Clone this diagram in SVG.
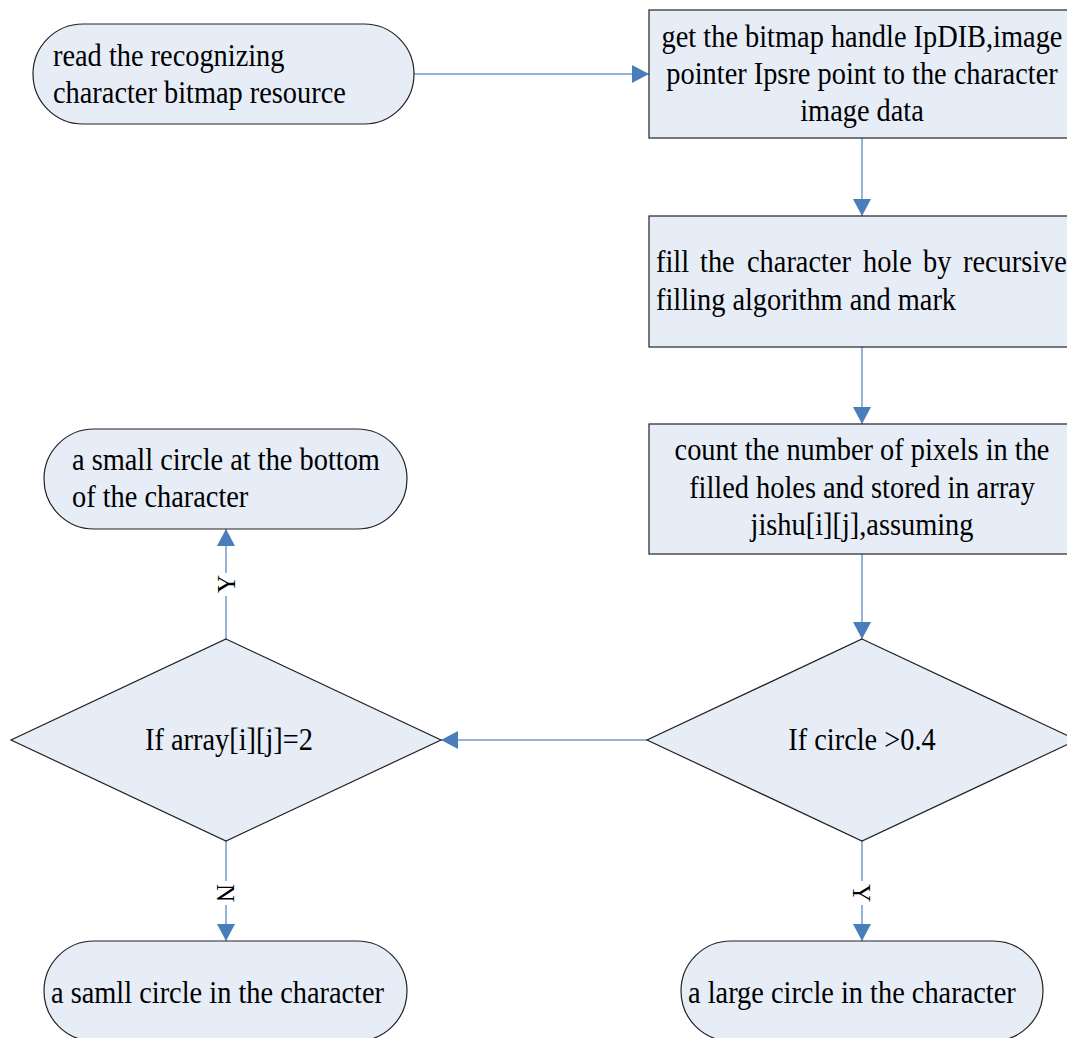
<svg xmlns="http://www.w3.org/2000/svg" width="1067" height="1038" viewBox="0 0 1067 1038">
<style>
.n{fill:#e7edf7;stroke:#222;stroke-width:1.2}
.t{font-family:"Liberation Serif","Times New Roman",serif;font-size:31px;fill:#000}
.m{text-anchor:middle}
.c{stroke:#95b3d7;stroke-width:2;fill:none}
.l{font-family:"Liberation Serif","Times New Roman",serif;font-size:25px;fill:#000;text-anchor:middle}
</style>
<defs>
<marker id="ah" markerUnits="userSpaceOnUse" markerWidth="18" markerHeight="18" viewBox="0 0 18 18" refX="17" refY="9" orient="auto">
<path d="M0,0 L17,9 L0,18 Z" fill="#4a7ebb"/>
</marker>
</defs>
<rect width="1067" height="1038" fill="#fff"/>
<g id="connectors">
<line class="c" x1="414" y1="74" x2="649" y2="74" marker-end="url(#ah)"/>
<line class="c" x1="862" y1="138" x2="862" y2="216" marker-end="url(#ah)"/>
<line class="c" x1="862" y1="347" x2="862" y2="424" marker-end="url(#ah)"/>
<line class="c" x1="862" y1="554" x2="862" y2="639" marker-end="url(#ah)"/>
<line class="c" x1="647" y1="740" x2="441" y2="740" marker-end="url(#ah)"/>
<line class="c" x1="226" y1="639" x2="226" y2="529" marker-end="url(#ah)"/>
<line class="c" x1="226" y1="841" x2="226" y2="941" marker-end="url(#ah)"/>
<line class="c" x1="862" y1="841" x2="862" y2="941" marker-end="url(#ah)"/>
<rect x="213" y="573" width="26" height="23" fill="#fff"/>
<text class="l" transform="translate(235,584) rotate(-90)">Y</text>
<rect x="213" y="881" width="26" height="24" fill="#fff"/>
<text class="l" transform="translate(217,893) rotate(90)">N</text>
<rect x="849" y="881" width="26" height="24" fill="#fff"/>
<text class="l" transform="translate(853,893) rotate(90)">Y</text>
</g>
<g id="start">
<rect class="n" x="33" y="24" width="381" height="100" rx="50" ry="50"/>
<text class="t" transform="translate(53,66) scale(0.915,1)">read the recognizing</text>
<text class="t" transform="translate(53,103) scale(0.915,1)">character bitmap resource</text>
</g>
<g id="get-handle">
<rect class="n" x="649" y="10" width="426" height="128"/>
<text class="t m" transform="translate(862,47) scale(0.915,1)">get the bitmap handle IpDIB,image</text>
<text class="t m" transform="translate(862,84) scale(0.915,1)">pointer Ipsre point to the character</text>
<text class="t m" transform="translate(862,121) scale(0.915,1)">image data</text>
</g>
<g id="fill-hole">
<rect class="n" x="649" y="216" width="426" height="131"/>
<text class="t" transform="translate(656,272) scale(0.915,1)"><tspan x="0">fill</tspan><tspan x="48.1">the</tspan><tspan x="99.5">character</tspan><tspan x="226.2">hole</tspan><tspan x="291.8">by</tspan><tspan x="335.5">recursive</tspan></text>
<text class="t" transform="translate(656,310) scale(0.915,1)">filling algorithm and mark</text>
</g>
<g id="count">
<rect class="n" x="649" y="424" width="426" height="130"/>
<text class="t m" transform="translate(862,460) scale(0.915,1)">count the number of pixels in the</text>
<text class="t m" transform="translate(862,498) scale(0.915,1)">filled holes and stored in array</text>
<text class="t m" transform="translate(862,535) scale(0.915,1)">jishu[i][j],assuming</text>
</g>
<g id="if-circle">
<polygon class="n" points="862,639 1077,740 862,841 647,740"/>
<text class="t m" transform="translate(862,750) scale(0.915,1)">If circle &gt;0.4</text>
</g>
<g id="if-array">
<polygon class="n" points="226,639 441,740 226,841 11,740"/>
<text class="t m" transform="translate(229,750) scale(0.915,1)">If array[i][j]=2</text>
</g>
<g id="small-bottom">
<rect class="n" x="44" y="429" width="363" height="100" rx="50" ry="50"/>
<text class="t" transform="translate(72,470) scale(0.915,1)">a small circle at the bottom</text>
<text class="t" transform="translate(72,507) scale(0.915,1)">of the character</text>
</g>
<g id="small-in">
<rect class="n" x="44" y="941" width="363" height="100" rx="50" ry="50"/>
<text class="t" transform="translate(51,1003) scale(0.915,1)">a samll circle in the character</text>
</g>
<g id="large-in">
<rect class="n" x="681" y="941" width="362" height="100" rx="50" ry="50"/>
<text class="t" transform="translate(688,1003) scale(0.915,1)">a large circle in the character</text>
</g>
</svg>
